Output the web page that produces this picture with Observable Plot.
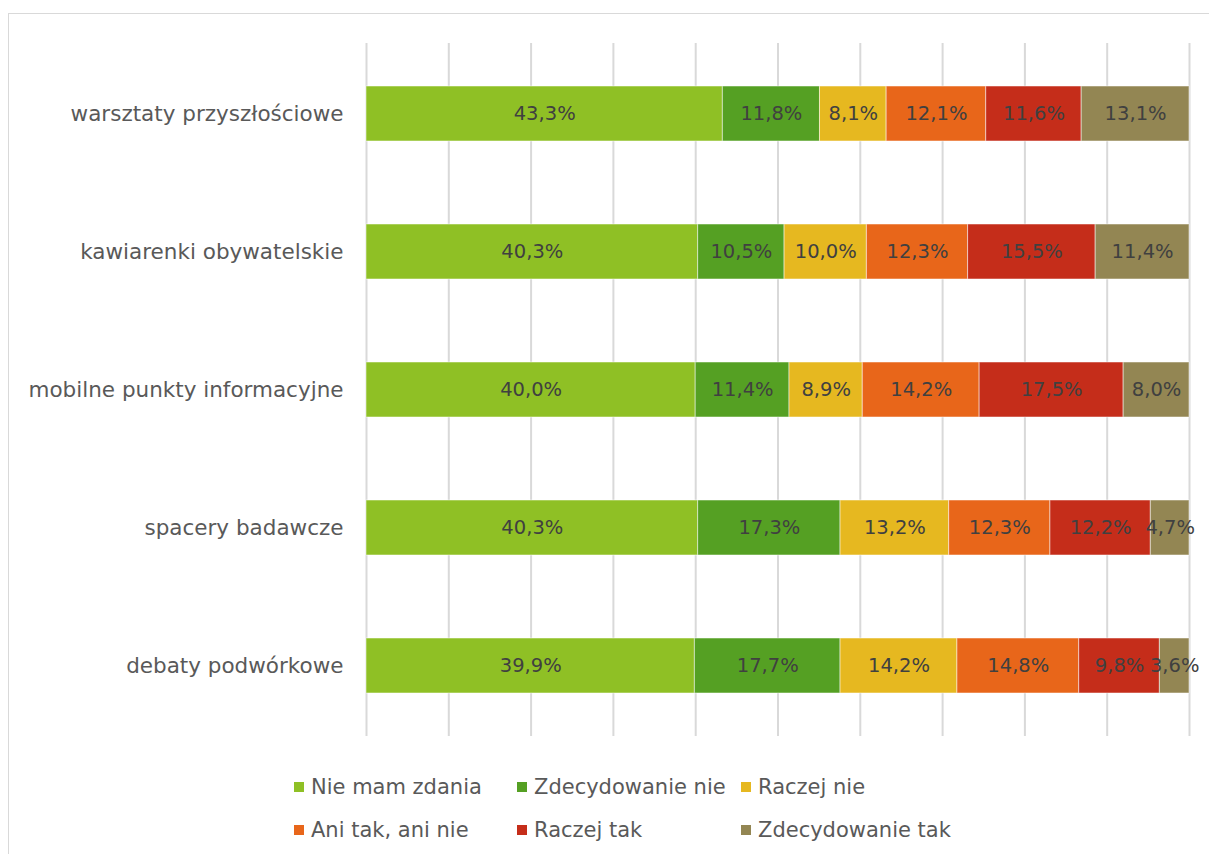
<!DOCTYPE html>
<html>
<head>
<meta charset="utf-8">
<script src="https://cdn.jsdelivr.net/npm/d3@7"></script>
<script src="https://cdn.jsdelivr.net/npm/@observablehq/plot@0.6"></script>
<style>
  html, body { margin: 0; padding: 0; background: #fff; }
  body { width: 1209px; height: 854px; position: relative; overflow: hidden; font-family: "DejaVu Sans", sans-serif; }
  #frame { position: absolute; left: 8px; top: 13px; width: 1400px; height: 1000px; border: 1px solid #d9d9d9; box-sizing: border-box; }
  #chart { position: absolute; left: 0; top: 0; }
  .leg { position: absolute; font-size: 21px; color: #595959; white-space: nowrap; display: flex; align-items: center; }
  .leg span.sw { display: inline-block; width: 10px; height: 10px; margin-right: 7px; }
</style>
</head>
<body>
<div id="frame"></div>
<div id="chart"></div>
<div id="legend"></div>
<script>
const categories = ["warsztaty przyszłościowe", "kawiarenki obywatelskie", "mobilne punkty informacyjne", "spacery badawcze", "debaty podwórkowe"];
const responses = ["Nie mam zdania", "Zdecydowanie nie", "Raczej nie", "Ani tak, ani nie", "Raczej tak", "Zdecydowanie tak"];
const colors = ["#8fc025", "#55a023", "#e6b820", "#e8661a", "#c52d1a", "#938653"];
const nieMamZdania     = [43.3, 40.3, 40.0, 40.3, 39.9];
const zdecydowanieNie  = [11.8, 10.5, 11.4, 17.3, 17.7];
const raczejNie        = [8.1, 10.0, 8.9, 13.2, 14.2];
const aniTakAniNie     = [12.1, 12.3, 14.2, 12.3, 14.8];
const raczejTak        = [11.6, 15.5, 17.5, 12.2, 9.8];
const zdecydowanieTak  = [13.1, 11.4, 8.0, 4.7, 3.6];
const gridTicks = [0, 10, 20, 30, 40, 50, 60, 70, 80, 90, 100];

const series = [nieMamZdania, zdecydowanieNie, raczejNie, aniTakAniNie, raczejTak, zdecydowanieTak];
const data = [];
categories.forEach((c, i) => {
  responses.forEach((r, j) => data.push({cat: c, resp: r, value: series[j][i]}));
});
const fmt = v => v.toFixed(1).replace(".", ",") + "%";

const chart = Plot.plot({
  width: 1209,
  height: 737,
  marginLeft: 366,
  marginRight: 20,
  marginTop: 43,
  marginBottom: 1,
  style: {fontFamily: "'DejaVu Sans', sans-serif", fontSize: "21px", color: "#595959", background: "transparent"},
  x: {domain: [0, 100], axis: null},
  y: {domain: categories, paddingInner: 0.6, paddingOuter: 0.3, label: null, axis: null},
  color: {domain: responses, range: colors},
  marks: [
    Plot.ruleX(gridTicks, {stroke: "#d9d9d9", strokeWidth: 2}),
    Plot.barX(data, Plot.stackX({x: "value", y: "cat", fill: "resp", order: responses, stroke: "#ffffff", strokeOpacity: 0.5, strokeWidth: 1})),
    Plot.text(data, Plot.stackX({x: "value", y: "cat", z: "resp", order: responses, text: d => fmt(d.value), fill: "#404040", fontSize: 19.5})),
    Plot.axisY({tickSize: 0, tickPadding: 23, fontSize: 21.5, fill: "#595959", label: null})
  ]
});
document.getElementById("chart").appendChild(chart);

const legendPos = [
  [294, 787], [517, 787], [741, 787],
  [294, 830], [517, 830], [741, 830]
];
const legend = document.getElementById("legend");
responses.forEach((r, i) => {
  const d = document.createElement("div");
  d.className = "leg";
  d.style.left = legendPos[i][0] + "px";
  d.style.top = (legendPos[i][1] - 13) + "px";
  d.style.height = "26px";
  d.innerHTML = `<span class="sw" style="background:${colors[i]}"></span>${r}`;
  legend.appendChild(d);
});
</script>
</body>
</html>
